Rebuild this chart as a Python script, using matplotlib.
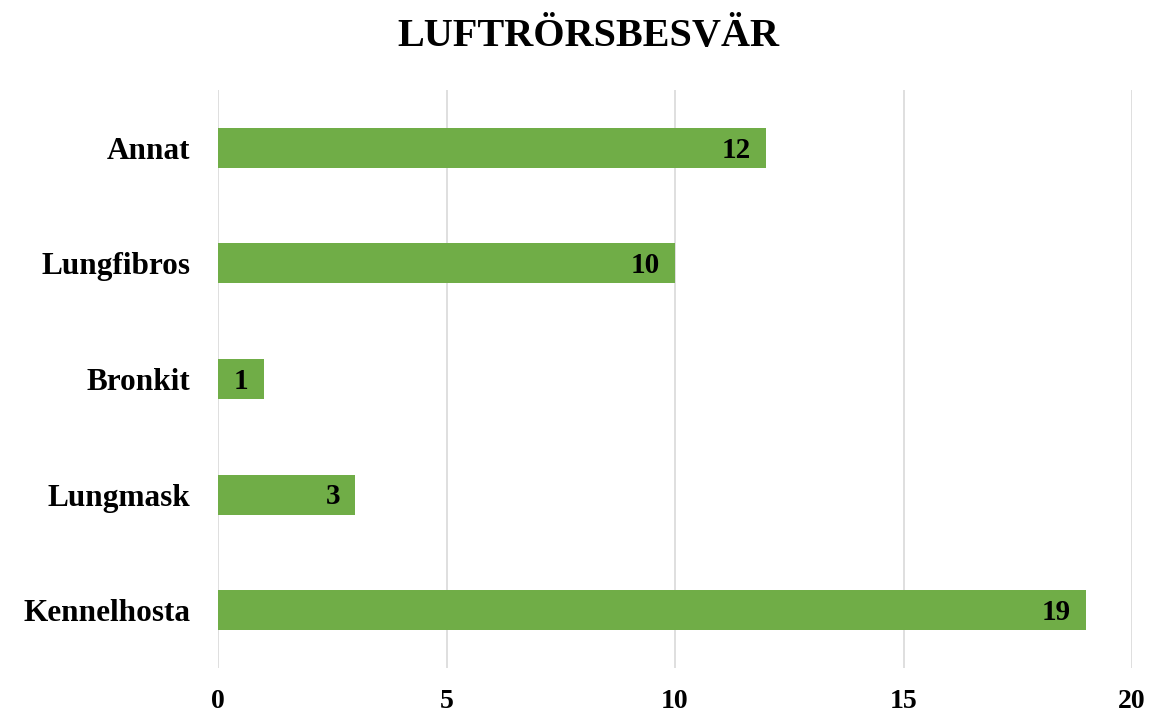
import matplotlib.pyplot as plt

categories = ['Kennelhosta', 'Lungmask', 'Bronkit', 'Lungfibros', 'Annat']
values = [19, 3, 1, 10, 12]

plt.rcParams['font.family'] = ['Liberation Serif', 'DejaVu Serif']
plt.rcParams['font.weight'] = 'bold'

fig = plt.figure(figsize=(11.76, 7.18), dpi=100)
ax = fig.add_axes([0.1854, 0.0696, 0.7772, 0.8051])

pos = range(len(categories))
bars = ax.barh(pos, values, height=0.346, color='#70AD47', zorder=3)
for b, v in zip(bars, values):
    ax.text(b.get_width() - 0.33, b.get_y() + b.get_height() / 2 - 0.02, str(v),
            ha='right', va='center', fontsize=21, fontweight='bold', color='black', zorder=4)

ax.set_yticks(list(pos))
ax.set_yticklabels(categories, fontsize=22.5, fontweight='bold')
ax.set_xlim(0, 20)
ax.set_ylim(-0.5, 4.5)
ax.set_xticks([0, 5, 10, 15, 20])
ax.tick_params(axis='x', labelsize=20, length=0, pad=15)
ax.tick_params(axis='y', length=0, pad=20)
ax.grid(axis='x', color='#D9D9D9', linewidth=1.2, zorder=0)
for s in ax.spines.values():
    s.set_visible(False)

fig.suptitle('LUFTRÖRSBESVÄR', y=0.975, fontsize=29, fontweight='bold')
fig.savefig('out.png', dpi=100)
